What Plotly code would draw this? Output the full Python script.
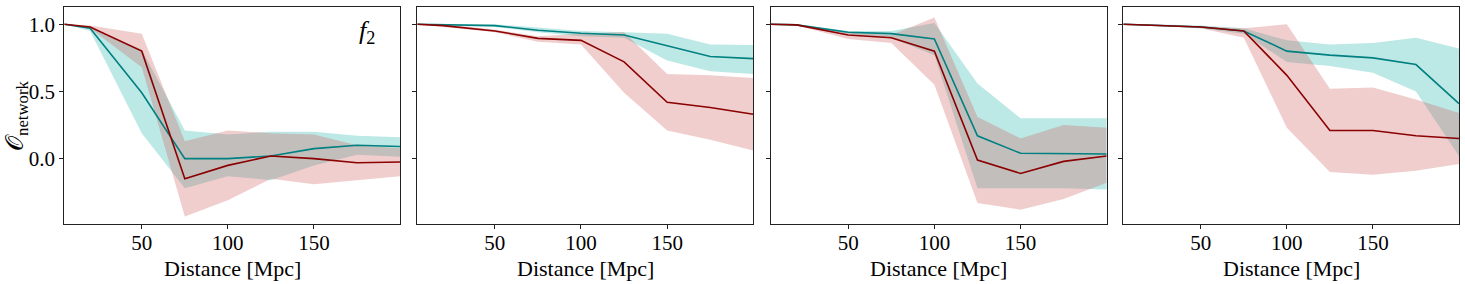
import plotly.graph_objects as go

# ---------------- data ----------------
distance = [5, 20, 50, 75, 100, 125, 150, 175, 200]

teal_mean1 = [1.0, 0.97, 0.49, 0.0, 0.0, 0.02, 0.075, 0.10, 0.09]
teal_hi1 = [1.0, 0.98, 0.81, 0.21, 0.18, 0.20, 0.20, 0.17, 0.16]
teal_lo1 = [1.0, 0.95, 0.19, -0.22, -0.13, -0.16, -0.05, 0.03, 0.015]
red_mean1 = [1.0, 0.98, 0.80, -0.15, -0.05, 0.02, 0.0, -0.03, -0.025]
red_hi1 = [1.0, 0.99, 0.93, 0.13, 0.21, 0.19, 0.18, 0.10, 0.077]
red_lo1 = [1.0, 0.97, 0.68, -0.43, -0.31, -0.15, -0.19, -0.16, -0.13]

teal_mean2 = [1.0, 0.995, 0.99, 0.955, 0.933, 0.92, 0.84, 0.76, 0.744]
teal_hi2 = [1.0, 1.0, 1.0, 0.975, 0.95, 0.94, 0.93, 0.85, 0.845]
teal_lo2 = [1.0, 0.99, 0.98, 0.94, 0.91, 0.90, 0.73, 0.65, 0.63]
red_mean2 = [1.0, 0.99, 0.95, 0.895, 0.88, 0.72, 0.42, 0.38, 0.33]
red_hi2 = [1.0, 1.0, 0.96, 0.91, 0.93, 0.94, 0.63, 0.62, 0.60]
red_lo2 = [1.0, 0.98, 0.94, 0.87, 0.85, 0.49, 0.21, 0.14, 0.06]

teal_mean3 = [1.0, 0.995, 0.94, 0.93, 0.89, 0.17, 0.04, 0.04, 0.035]
teal_hi3 = [1.0, 1.0, 0.95, 0.95, 1.01, 0.56, 0.30, 0.30, 0.30]
teal_lo3 = [1.0, 0.99, 0.93, 0.90, 0.77, -0.22, -0.22, -0.22, -0.23]
red_mean3 = [1.0, 0.995, 0.92, 0.90, 0.80, -0.01, -0.11, -0.02, 0.02]
red_hi3 = [1.0, 1.0, 0.94, 0.92, 1.05, 0.31, 0.15, 0.25, 0.23]
red_lo3 = [1.0, 0.99, 0.89, 0.86, 0.55, -0.33, -0.38, -0.30, -0.18]

teal_mean4 = [1.0, 0.995, 0.98, 0.95, 0.80, 0.77, 0.75, 0.70, 0.41]
teal_hi4 = [1.0, 1.0, 0.99, 0.97, 0.88, 0.85, 0.86, 0.90, 0.82]
teal_lo4 = [1.0, 0.99, 0.97, 0.93, 0.72, 0.69, 0.64, 0.50, 0.02]
red_mean4 = [1.0, 0.995, 0.98, 0.95, 0.62, 0.21, 0.21, 0.17, 0.15]
red_hi4 = [1.0, 1.0, 0.985, 0.97, 1.0, 0.52, 0.53, 0.44, 0.34]
red_lo4 = [1.0, 0.99, 0.97, 0.90, 0.23, -0.10, -0.12, -0.09, -0.04]

x_ticks = [50, 100, 150]
y_ticks = [0.0, 0.5, 1.0]
y_ticktext = ["0.0", "0.5", "1.0"]
x_title = "Distance [Mpc]"
y_title = "𝒪<sub>network</sub>"
panel_label = "<i>f</i><sub>2</sub>"

panels = [
    (teal_mean1, teal_hi1, teal_lo1, red_mean1, red_hi1, red_lo1),
    (teal_mean2, teal_hi2, teal_lo2, red_mean2, red_hi2, red_lo2),
    (teal_mean3, teal_hi3, teal_lo3, red_mean3, red_hi3, red_lo3),
    (teal_mean4, teal_hi4, teal_lo4, red_mean4, red_hi4, red_lo4),
]

# ---------------- style ----------------
W, H = 1465, 284
FONT = "Liberation Serif"
TEAL_LINE = "#008080"
TEAL_FILL = "rgba(32,178,170,0.3)"
RED_LINE = "#8B0000"
RED_FILL = "rgba(205,92,92,0.3)"

x_px = [(64.3, 400.0), (417.3, 753.3), (770.7, 1106.7), (1123.3, 1459.0)]
y_top, y_bot = 7.3, 224.0

fig = go.Figure()
layout = dict(
    width=W, height=H,
    margin=dict(l=0, r=0, t=0, b=0),
    paper_bgcolor="white", plot_bgcolor="white",
    showlegend=False,
    font=dict(family=FONT, size=20, color="black"),
)
annotations = []

for i, (tm, th, tl, rm, rh, rl) in enumerate(panels):
    k = "" if i == 0 else str(i + 1)
    xa, ya = "x" + k, "y" + k
    # teal band
    fig.add_trace(go.Scatter(x=distance, y=th, xaxis=xa, yaxis=ya, mode="lines",
                             line=dict(width=0), hoverinfo="skip"))
    fig.add_trace(go.Scatter(x=distance, y=tl, xaxis=xa, yaxis=ya, mode="lines",
                             line=dict(width=0), fill="tonexty", fillcolor=TEAL_FILL,
                             hoverinfo="skip"))
    # red band
    fig.add_trace(go.Scatter(x=distance, y=rh, xaxis=xa, yaxis=ya, mode="lines",
                             line=dict(width=0), hoverinfo="skip"))
    fig.add_trace(go.Scatter(x=distance, y=rl, xaxis=xa, yaxis=ya, mode="lines",
                             line=dict(width=0), fill="tonexty", fillcolor=RED_FILL,
                             hoverinfo="skip"))
    # lines
    fig.add_trace(go.Scatter(x=distance, y=tm, xaxis=xa, yaxis=ya, mode="lines",
                             line=dict(color=TEAL_LINE, width=1.6)))
    fig.add_trace(go.Scatter(x=distance, y=rm, xaxis=xa, yaxis=ya, mode="lines",
                             line=dict(color=RED_LINE, width=1.6)))

    x0, x1 = x_px[i]
    layout["xaxis" + k] = dict(
        domain=[x0 / W, x1 / W], anchor=ya, range=[5, 200],
        tickvals=x_ticks, ticks="outside", ticklen=4, tickwidth=1, tickcolor="#222",
        showline=True, linecolor="#222", linewidth=1, mirror=True,
        showgrid=False, zeroline=False, ticklabelstandoff=-4,
        tickfont=dict(family=FONT, size=21),
    )
    layout["yaxis" + k] = dict(
        domain=[1 - y_bot / H, 1 - y_top / H], anchor=xa, range=[-0.486, 1.126],
        tickvals=y_ticks, ticktext=y_ticktext, showticklabels=(i == 0),
        ticks="outside", ticklen=4, tickwidth=1, tickcolor="#222",
        showline=True, linecolor="#222", linewidth=1, mirror=True,
        showgrid=False, zeroline=False,
        tickfont=dict(family=FONT, size=21),
    )
    annotations.append(dict(
        text=x_title, xref="paper", yref="paper",
        x=(x0 + x1) / 2 / W, y=1 - 268 / H, xanchor="center", yanchor="middle",
        showarrow=False, font=dict(family=FONT, size=22),
    ))

annotations.append(dict(
    text=y_title, xref="paper", yref="paper", x=17 / W, y=1 - 116 / H,
    xanchor="center", yanchor="middle", textangle=-90, showarrow=False,
    font=dict(family=FONT, size=24),
))
annotations.append(dict(
    text=panel_label, xref="paper", yref="paper", x=367 / W, y=1 - 32 / H,
    xanchor="center", yanchor="middle", showarrow=False,
    font=dict(family=FONT, size=26),
))
layout["annotations"] = annotations
fig.update_layout(**layout)
fig.write_html("out.html", config={"displayModeBar": False},
               post_script="document.body.style.margin='0';")
